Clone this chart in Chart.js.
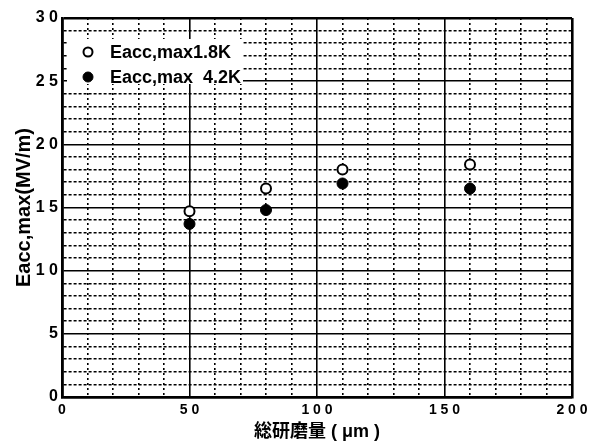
<!DOCTYPE html>
<html>
<head>
<meta charset="utf-8">
<script src="https://cdn.jsdelivr.net/npm/chart.js@4.4.0/dist/chart.umd.min.js"></script>
<style>
  html, body { margin: 0; padding: 0; background: #fff; }
</style>
</head>
<body>
<canvas id="eaccChart" width="604" height="446"></canvas>
<script>
// total polishing amount (um) and Eacc,max (MV/m)
const polishAmount = [50, 80, 110, 160];
const eacc18K = [14.7, 16.5, 18.0, 18.4];
const eacc42K = [13.7, 14.8, 16.9, 16.5];
const seriesLabels = ['Eacc,max1.8K', 'Eacc,max  4.2K'];
const xTickLabels = [0, 50, 100, 150, 200];
const yTickLabels = [0, 5, 10, 15, 20, 25, 30];

const fontFamily = '"Liberation Sans", Arial, "Noto Sans CJK JP", sans-serif';

// "100" -> "1 0 0", like the letter-spaced labels of the original
function spaced(v) {
    return String(v).split('').join(' ');
}

function gridWidth(max) {
    return function (ctx) {
        if (!ctx.tick) return 1.6;
        const v = ctx.tick.value;
        if (v === 0 || v === max) return 2.6;
        return 1.6;
    };
}

function gridDash(major, pattern) {
    return function (ctx) {
        if (!ctx.tick) return [];
        return ctx.tick.value % major === 0 ? [] : pattern;
    };
}

// legend sits inside the plot on a white patch, like the original
const legendInside = {
    id: 'legendInside',
    afterDatasetsDraw(chart) {
        const ctx = chart.ctx;
        const area = chart.chartArea;
        ctx.save();
        ctx.fillStyle = '#fff';
        ctx.fillRect(area.left + 5, area.top + 21, 176, 45);
        ctx.font = 'bold 18px ' + fontFamily;
        ctx.textBaseline = 'middle';
        chart.data.datasets.forEach((ds, i) => {
            const cx = area.left + 26;
            const cy = area.top + 34 + i * 25;
            ctx.beginPath();
            ctx.arc(cx, cy, ds.pointRadius - 0.5, 0, Math.PI * 2);
            ctx.fillStyle = ds.pointBackgroundColor;
            ctx.fill();
            ctx.lineWidth = ds.pointBorderWidth;
            ctx.strokeStyle = ds.pointBorderColor;
            ctx.stroke();
            ctx.fillStyle = '#000';
            ctx.fillText(ds.label, area.left + 48, cy + 1);
        });
        ctx.restore();
    }
};

const canvas = document.getElementById('eaccChart');
new Chart(canvas.getContext('2d'), {
    type: 'scatter',
    data: {
        datasets: [{
            label: seriesLabels[0],
            data: polishAmount.map((x, i) => ({ x: x, y: eacc18K[i] })),
            pointStyle: 'circle',
            pointRadius: 5,
            pointBackgroundColor: '#fff',
            pointBorderColor: '#000',
            pointBorderWidth: 2
        }, {
            label: seriesLabels[1],
            data: polishAmount.map((x, i) => ({ x: x, y: eacc42K[i] })),
            pointStyle: 'circle',
            pointRadius: 5.5,
            pointBackgroundColor: '#000',
            pointBorderColor: '#000',
            pointBorderWidth: 1
        }]
    },
    options: {
        responsive: false,
        animation: false,
        layout: {
            padding: { top: 18, right: 32, bottom: 0, left: 0 }
        },
        plugins: {
            legend: { display: false },
            tooltip: { enabled: false }
        },
        scales: {
            x: {
                type: 'linear',
                min: 0,
                max: 200,
                afterFit: function (scale) { scale.height = 49; },
                grid: {
                    color: '#000',
                    lineWidth: gridWidth(200),
                    drawTicks: false
                },
                border: {
                    display: true,
                    color: '#000',
                    width: 2.6,
                    dash: gridDash(50, [2, 3])
                },
                ticks: {
                    stepSize: 10,
                    autoSkip: false,
                    maxRotation: 0,
                    padding: 5,
                    color: '#000',
                    font: { family: fontFamily, size: 14, weight: 'bold' },
                    callback: function (v) {
                        return xTickLabels.includes(v) ? spaced(v) : '';
                    }
                },
                title: {
                    display: true,
                    text: '総研磨量 ( μm )',
                    color: '#000',
                    font: { family: fontFamily, size: 18, weight: 'bold' },
                    padding: { top: 0, bottom: 3 }
                }
            },
            y: {
                type: 'linear',
                min: 0,
                max: 30,
                afterFit: function (scale) { scale.width = 62; },
                grid: {
                    color: '#000',
                    lineWidth: gridWidth(30),
                    drawTicks: false
                },
                border: {
                    display: true,
                    color: '#000',
                    width: 2.6,
                    dash: gridDash(5, [3, 2])
                },
                ticks: {
                    stepSize: 1,
                    autoSkip: false,
                    padding: 4,
                    color: '#000',
                    font: { family: fontFamily, size: 16, weight: 'bold' },
                    callback: function (v) {
                        return yTickLabels.includes(v) ? spaced(v) : '';
                    }
                },
                title: {
                    display: true,
                    text: 'Eacc,max(MV/m)',
                    color: '#000',
                    font: { family: fontFamily, size: 20, weight: 'bold' },
                    padding: { top: 12, bottom: 0 }
                }
            }
        }
    },
    plugins: [legendInside]
});
</script>
</body>
</html>
